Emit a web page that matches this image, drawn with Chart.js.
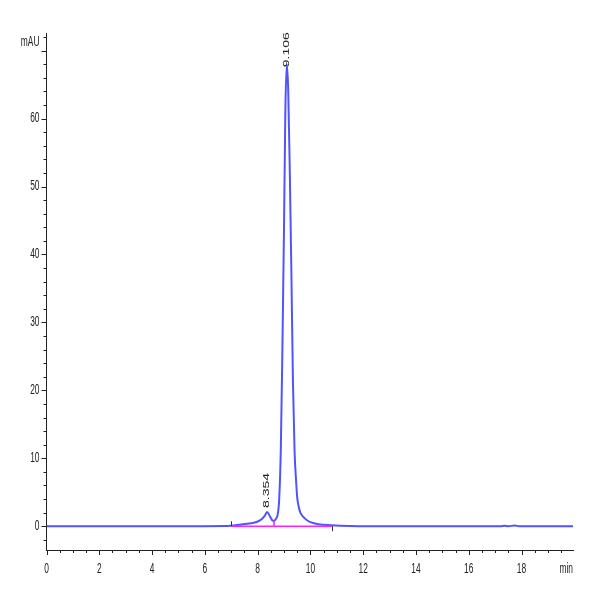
<!DOCTYPE html>
<html>
<head>
<meta charset="utf-8">
<script src="https://cdn.jsdelivr.net/npm/chart.js@4.4.0/dist/chart.umd.min.js"></script>
<style>
  html, body { margin: 0; padding: 0; background: #ffffff; }
  #wrap { width: 600px; height: 600px; }
</style>
</head>
<body>
<div id="wrap"><canvas id="c" width="600" height="600"></canvas></div>
<script>
// ---- data ----
const times = [0, 2, 4, 6, 6.8, 7.0, 7.3, 7.6, 7.85, 8.0, 8.1, 8.2, 8.28, 8.354, 8.42, 8.5, 8.56, 8.61, 8.66, 8.71, 8.76, 8.82, 8.88, 8.94, 9.0, 9.05, 9.106, 9.16, 9.22, 9.28, 9.34, 9.4, 9.46, 9.5, 9.56, 9.62, 9.75, 9.9, 10.0, 10.3, 10.8, 11.5, 13.0, 15.0, 17.2, 17.35, 17.5, 17.75, 17.9, 18.5, 19.95];
const signal = [0, 0, 0, 0, 0.02, 0.08, 0.2, 0.35, 0.5, 0.7, 0.9, 1.2, 1.6, 2.1, 1.8, 1.2, 0.85, 0.8, 0.9, 1.2, 1.7, 4.2, 11.6, 26.5, 44, 61, 68, 64, 52, 37, 21, 11, 6.5, 4.2, 2.8, 2.0, 1.3, 0.8, 0.6, 0.3, 0.15, 0.05, 0, 0, 0, 0.08, 0, 0.1, 0, 0, 0];
const peakTimes = [8.354, 9.106];
const peakHeights = [2.1, 68];
const peakLabels = ["8.354", "9.106"];
const baselineTimes = [7.0, 10.82];
const baselineValues = [0, 0];
const dropTimes = [8.62, 8.62];
const dropValues = [0, 0.8];
const xTickLabels = ["0", "2", "4", "6", "8", "10", "12", "14", "16", "18"];
const yTickLabels = ["0", "10", "20", "30", "40", "50", "60"];
const xUnit = "min";
const yUnit = "mAU";
const X_MIN = 0, X_MAX = 19.95, Y_MIN = -3.5, Y_MAX = 72.6;

const toPts = (xs, ys) => xs.map((x, i) => ({ x: x, y: ys[i] }));

const FONT = "14px 'Liberation Sans', Arial, sans-serif";
const TXT = '#222222';
const SQ = 0.6; // horizontal squeeze of the reference text

function squeezedText(ctx, txt, x, y, align) {
  ctx.save();
  ctx.translate(x, y);
  ctx.scale(SQ, 1);
  ctx.font = FONT;
  ctx.fillStyle = TXT;
  ctx.textAlign = align;
  ctx.textBaseline = 'middle';
  ctx.fillText(txt, 0, 0);
  ctx.restore();
}

const decor = {
  id: 'decor',
  afterDraw(chart) {
    const ctx = chart.ctx;
    const xs = chart.scales.x, ys = chart.scales.y;
    const area = chart.chartArea;
    ctx.save();
    ctx.strokeStyle = '#222222';
    ctx.lineWidth = 1;
    // x ticks every 0.5 min
    for (let k = 0; k * 0.5 <= X_MAX; k++) {
      const v = k * 0.5;
      const px = Math.round(xs.getPixelForValue(v)) + 0.5;
      const len = (k % 4 === 0) ? 5 : 3;
      ctx.beginPath();
      ctx.moveTo(px, area.bottom);
      ctx.lineTo(px, area.bottom + len);
      ctx.stroke();
    }
    // y ticks every 2 mAU
    for (let v = -2; v <= Y_MAX; v += 2) {
      const py = Math.round(ys.getPixelForValue(v)) + 0.5;
      const len = (v % 10 === 0) ? 5 : 3;
      ctx.beginPath();
      ctx.moveTo(area.left - len, py);
      ctx.lineTo(area.left, py);
      ctx.stroke();
    }
    // tick labels
    xTickLabels.forEach(l => {
      squeezedText(ctx, l, xs.getPixelForValue(parseFloat(l)), area.bottom + 19, 'center');
    });
    yTickLabels.forEach(l => {
      squeezedText(ctx, l, area.left - 7, ys.getPixelForValue(parseFloat(l)), 'right');
    });
    squeezedText(ctx, xUnit, area.right, area.bottom + 19, 'right');
    squeezedText(ctx, yUnit, area.left - 7, area.top + 9, 'right');
    // baseline end markers
    ctx.strokeStyle = '#333333';
    const b0x = Math.round(xs.getPixelForValue(baselineTimes[0])) + 0.5;
    const b0y = ys.getPixelForValue(baselineValues[0]);
    ctx.beginPath(); ctx.moveTo(b0x, b0y - 5); ctx.lineTo(b0x, b0y); ctx.stroke();
    const b1x = Math.round(xs.getPixelForValue(baselineTimes[1])) + 0.5;
    const b1y = ys.getPixelForValue(baselineValues[1]);
    ctx.beginPath(); ctx.moveTo(b1x, b1y); ctx.lineTo(b1x, b1y + 5); ctx.stroke();
    // peak labels (rotated)
    peakLabels.forEach((l, i) => {
      const px = xs.getPixelForValue(peakTimes[i]);
      const py = ys.getPixelForValue(peakHeights[i]);
      ctx.save();
      ctx.translate(px, py + (i === 1 ? 3 : -4));
      ctx.rotate(-Math.PI / 2);
      ctx.scale(1, SQ);
      ctx.font = FONT;
      ctx.fillStyle = TXT;
      ctx.textAlign = 'left';
      ctx.textBaseline = 'middle';
      ctx.fillText(l, 0, 0);
      ctx.restore();
    });
    ctx.restore();
  }
};

new Chart(document.getElementById('c'), {
  type: 'line',
  data: {
    datasets: [
      {
        data: toPts(baselineTimes, baselineValues),
        borderColor: '#ff22ff', borderWidth: 1.6, pointRadius: 0, order: 0
      },
      {
        data: toPts(dropTimes, dropValues),
        borderColor: '#ff22ff', borderWidth: 1.6, pointRadius: 0, order: 0
      },
      {
        data: toPts(times, signal),
        borderColor: '#5252ff', borderWidth: 2, pointRadius: 0,
        cubicInterpolationMode: 'monotone', order: 1
      }
    ]
  },
  options: {
    responsive: false,
    animation: false,
    devicePixelRatio: 1,
    layout: { padding: { top: 33, right: 27, left: 0, bottom: 0 } },
    plugins: { legend: { display: false }, tooltip: { enabled: false } },
    scales: {
      x: {
        type: 'linear', min: X_MIN, max: X_MAX,
        grid: { display: false },
        border: { display: true, color: '#222222', width: 1 },
        ticks: { display: false },
        afterFit: s => { s.height = 50; }
      },
      y: {
        type: 'linear', min: Y_MIN, max: Y_MAX,
        grid: { display: false },
        border: { display: true, color: '#222222', width: 1 },
        ticks: { display: false },
        afterFit: s => { s.width = 46.5; }
      }
    }
  },
  plugins: [decor]
});
</script>
</body>
</html>
